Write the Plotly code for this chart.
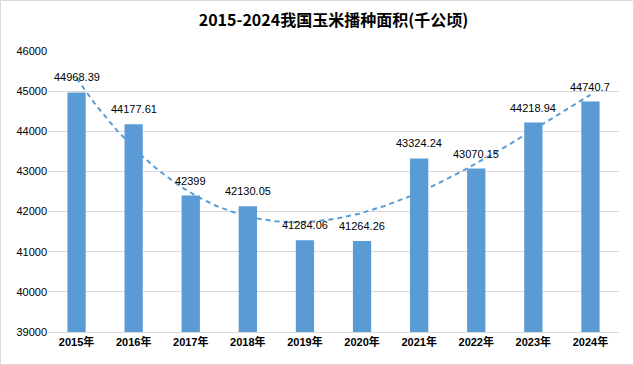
import numpy as np
import plotly.graph_objects as go

categories = ["2015年", "2016年", "2017年", "2018年", "2019年",
              "2020年", "2021年", "2022年", "2023年", "2024年"]
values = [44968.39, 44177.61, 42399, 42130.05, 41284.06,
          41264.26, 43324.24, 43070.15, 44218.94, 44740.7]
labels = ["44968.39", "44177.61", "42399", "42130.05", "41284.06",
          "41264.26", "43324.24", "43070.15", "44218.94", "44740.7"]
title = "2015-2024我国玉米播种面积(千公顷)"

# Excel-style polynomial trendline
xi = np.arange(1, len(values) + 1)
coef = np.polyfit(xi, values, 3)
xs = np.linspace(1, len(values), 200)
trend = np.polyval(coef, xs)

W, H = 634, 365
ml, mr, mt, mb = 48, 15, 51, 33

fig = go.Figure()
fig.add_trace(go.Bar(
    x=list(range(len(categories))), y=[v - 39000 for v in values], base=39000,
    marker=dict(color="#5B9BD5", line=dict(width=0)),
    width=0.32, hoverinfo="skip", showlegend=False,
))
fig.add_trace(go.Scatter(
    x=xs - 1, y=trend, mode="lines",
    line=dict(color="#5B9BD5", width=2, dash="5px,4px"),
    hoverinfo="skip", showlegend=False,
))

font_fam = "Liberation Sans, Noto Sans CJK SC, sans-serif"
annotations = []
for i, (v, t) in enumerate(zip(values, labels)):
    annotations.append(dict(
        x=i, y=v, text=t, showarrow=False, yanchor="bottom", yshift=7,
        font=dict(family=font_fam, size=11, color="#000000"),
    ))

pw = W - ml - mr
ph = H - mt - mb
shapes = [dict(
    type="rect", xref="paper", yref="paper",
    x0=-(ml - 0.5) / pw, x1=1 + (mr - 0.5) / pw,
    y0=-(mb - 0.5) / ph, y1=1 + (mt - 0.5) / ph,
    line=dict(color="#D9D9D9", width=1), fillcolor="rgba(0,0,0,0)",
)]

fig.update_layout(
    width=W, height=H,
    margin=dict(l=ml, r=mr, t=mt, b=mb),
    paper_bgcolor="white", plot_bgcolor="white",
    hovermode=False,
    title=dict(text="<b>" + title + "</b>", x=0.5, xref="paper", y=1 - 20 / H,
               yanchor="middle",
               font=dict(family="Noto Sans CJK SC, sans-serif", size=16, color="#000000")),
    xaxis=dict(
        tickmode="array", tickvals=list(range(len(categories))),
        ticktext=["<b>" + c + "</b>" for c in categories],
        range=[-0.5, len(categories) - 0.5],
        showgrid=False, zeroline=False,
        showline=True, linecolor="#D9D9D9", linewidth=1,
        ticks="", tickfont=dict(family=font_fam, size=11, color="#000000"),
    ),
    yaxis=dict(
        range=[39000, 46000], dtick=1000, tick0=39000,
        showgrid=True, gridcolor="#D9D9D9", gridwidth=1,
        zeroline=False, showline=False, ticks="",
        tickformat="d",
        tickfont=dict(family=font_fam, size=11, color="#000000"),
    ),
    annotations=annotations,
    shapes=shapes,
    bargap=0.68,
)

fig.write_html("out.html", config={"displayModeBar": False, "staticPlot": True},
               post_script="document.body.style.margin='0px';")
